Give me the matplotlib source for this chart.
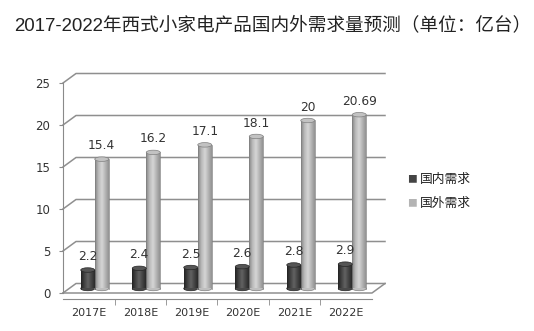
import numpy as np
import matplotlib
matplotlib.use('Agg')
import matplotlib.pyplot as plt
from matplotlib.patches import Ellipse
from matplotlib.colors import LinearSegmentedColormap

plt.rcParams['font.family'] = ['Noto Sans CJK SC', 'DejaVu Sans']

years = ['2017E', '2018E', '2019E', '2020E', '2021E', '2022E']
domestic = [2.2, 2.4, 2.5, 2.6, 2.8, 2.9]
overseas = [15.4, 16.2, 17.1, 18.1, 20, 20.69]
value_labels_dom = ['2.2', '2.4', '2.5', '2.6', '2.8', '2.9']
value_labels_ovs = ['15.4', '16.2', '17.1', '18.1', '20', '20.69']
series_names = ['国内需求', '国外需求']
title = '2017-2022年西式小家电产品国内外需求量预测（单位：亿台）'

W, H = 534, 331
fig = plt.figure(figsize=(W / 100, H / 100), dpi=100)
fig.patch.set_facecolor('white')

# front plane of the 3d box, in pixels
left_px, right_px, zero_px, top_px = 63, 372, 293, 83
ax = fig.add_axes([left_px / W, (H - zero_px) / H,
                   (right_px - left_px) / W, (zero_px - top_px) / H])
ax.set_xlim(-0.5, 5.5)
ax.set_ylim(0, 25)
px_x = (right_px - left_px) / 6.0   # pixels per x unit
px_y = (zero_px - top_px) / 25.0    # pixels per y unit

# depth offsets (back wall, and the middle where the bars stand)
back_dx, back_dy = 13 / px_x, 9.5 / px_y
mid_dx, mid_dy = 6 / px_x, 4.5 / px_y

grid_c = '#8f8f8f'
for v in range(0, 26, 5):
    ax.plot([-0.5, -0.5 + back_dx, 5.5 + back_dx], [v, v + back_dy, v + back_dy],
            color=grid_c, lw=1.1, clip_on=False, zorder=1)
# floor front edge and right edge
ax.plot([-0.5, 5.5, 5.5 + back_dx], [0, 0, back_dy], color=grid_c, lw=1.1,
        clip_on=False, zorder=1)

for s in ['top', 'right']:
    ax.spines[s].set_visible(False)
ax.spines['left'].set_color('#8a8a8a')
ax.spines['bottom'].set_color('#8a8a8a')
ax.spines['bottom'].set_position(('outward', 4))
ax.spines['left'].set_bounds(0, 25)

ax.set_yticks(range(0, 26, 5))
ax.tick_params(axis='y', length=3, color='#8a8a8a', labelsize=8.5,
               labelcolor='#333333', pad=6)
ax.set_xticks(range(6))
ax.set_xticklabels(years)
ax.tick_params(axis='x', length=0, labelsize=8, labelcolor='#333333', pad=7)
ax.set_xticks(np.arange(0.5, 5.5, 1), minor=True)
ax.tick_params(axis='x', which='minor', length=4, color='#8a8a8a')
for lab in ax.get_xticklabels() + ax.get_yticklabels():
    lab.set_family(['Verdana', 'DejaVu Sans'])

dark_cmap = LinearSegmentedColormap.from_list(
    'd', ['#222222', '#434343', '#626262', '#454545', '#2a2a2a'])
light_cmap = LinearSegmentedColormap.from_list(
    'l', ['#868686', '#bababa', '#d6d6d6', '#b4b4b4', '#929292'])
grad = np.linspace(0, 1, 64).reshape(1, -1)

bw = 14 / px_x
ell_h = 4.5 / px_y
x = np.arange(len(years))


def cylinders(xs, vals, cmap, top_c, edge_c, labels):
    bars = ax.bar(xs + mid_dx, vals, width=bw, bottom=mid_dy, color='none',
                  edgecolor='none', zorder=3)
    for b, v, lab in zip(bars, vals, labels):
        x0 = b.get_x()
        ax.add_patch(Ellipse((x0 + bw / 2, mid_dy), bw, ell_h,
                             facecolor=cmap(0.3), edgecolor=edge_c, lw=0.5, zorder=2.5))
        im = ax.imshow(grad, cmap=cmap, aspect='auto', zorder=3,
                       extent=(x0, x0 + bw, mid_dy, mid_dy + v))
        im.set_clip_path(b)
        ax.plot([x0, x0], [mid_dy, mid_dy + v], color=edge_c, lw=0.5, zorder=3.5)
        ax.plot([x0 + bw, x0 + bw], [mid_dy, mid_dy + v], color=edge_c, lw=0.5, zorder=3.5)
        ax.add_patch(Ellipse((x0 + bw / 2, mid_dy + v), bw, ell_h,
                             facecolor=top_c, edgecolor=edge_c, lw=0.5, zorder=4))
        ax.annotate(lab, (x0 + bw / 2, mid_dy + v), xytext=(0, 5),
                    textcoords='offset points', ha='center', va='bottom',
                    fontsize=8.8, color='#333333', family=['Verdana', 'DejaVu Sans'],
                    zorder=5)


cylinders(x - bw / 2, domestic, dark_cmap, '#555555', '#252525', value_labels_dom)
cylinders(x + bw / 2, overseas, light_cmap, '#c2c2c2', '#808080', value_labels_ovs)
ax.set_xlim(-0.5, 5.5)
ax.set_ylim(0, 25)

# legend
fig.text(412 / W, 1 - 179 / H, '■', color='#444444', fontsize=7, va='center', ha='center')
fig.text(420 / W, 1 - 179 / H, series_names[0], fontsize=9.2, va='center', color='#222222')
fig.text(412 / W, 1 - 203 / H, '■', color='#b4b4b4', fontsize=7, va='center', ha='center')
fig.text(420 / W, 1 - 203 / H, series_names[1], fontsize=9.2, va='center', color='#222222')

fig.text(14 / W, 1 - 25 / H, title, fontsize=13.4, va='center', ha='left', color='#222222',
         family=['Liberation Sans', 'Noto Sans CJK SC'])

fig.savefig('out.png', dpi=100, facecolor='white')
